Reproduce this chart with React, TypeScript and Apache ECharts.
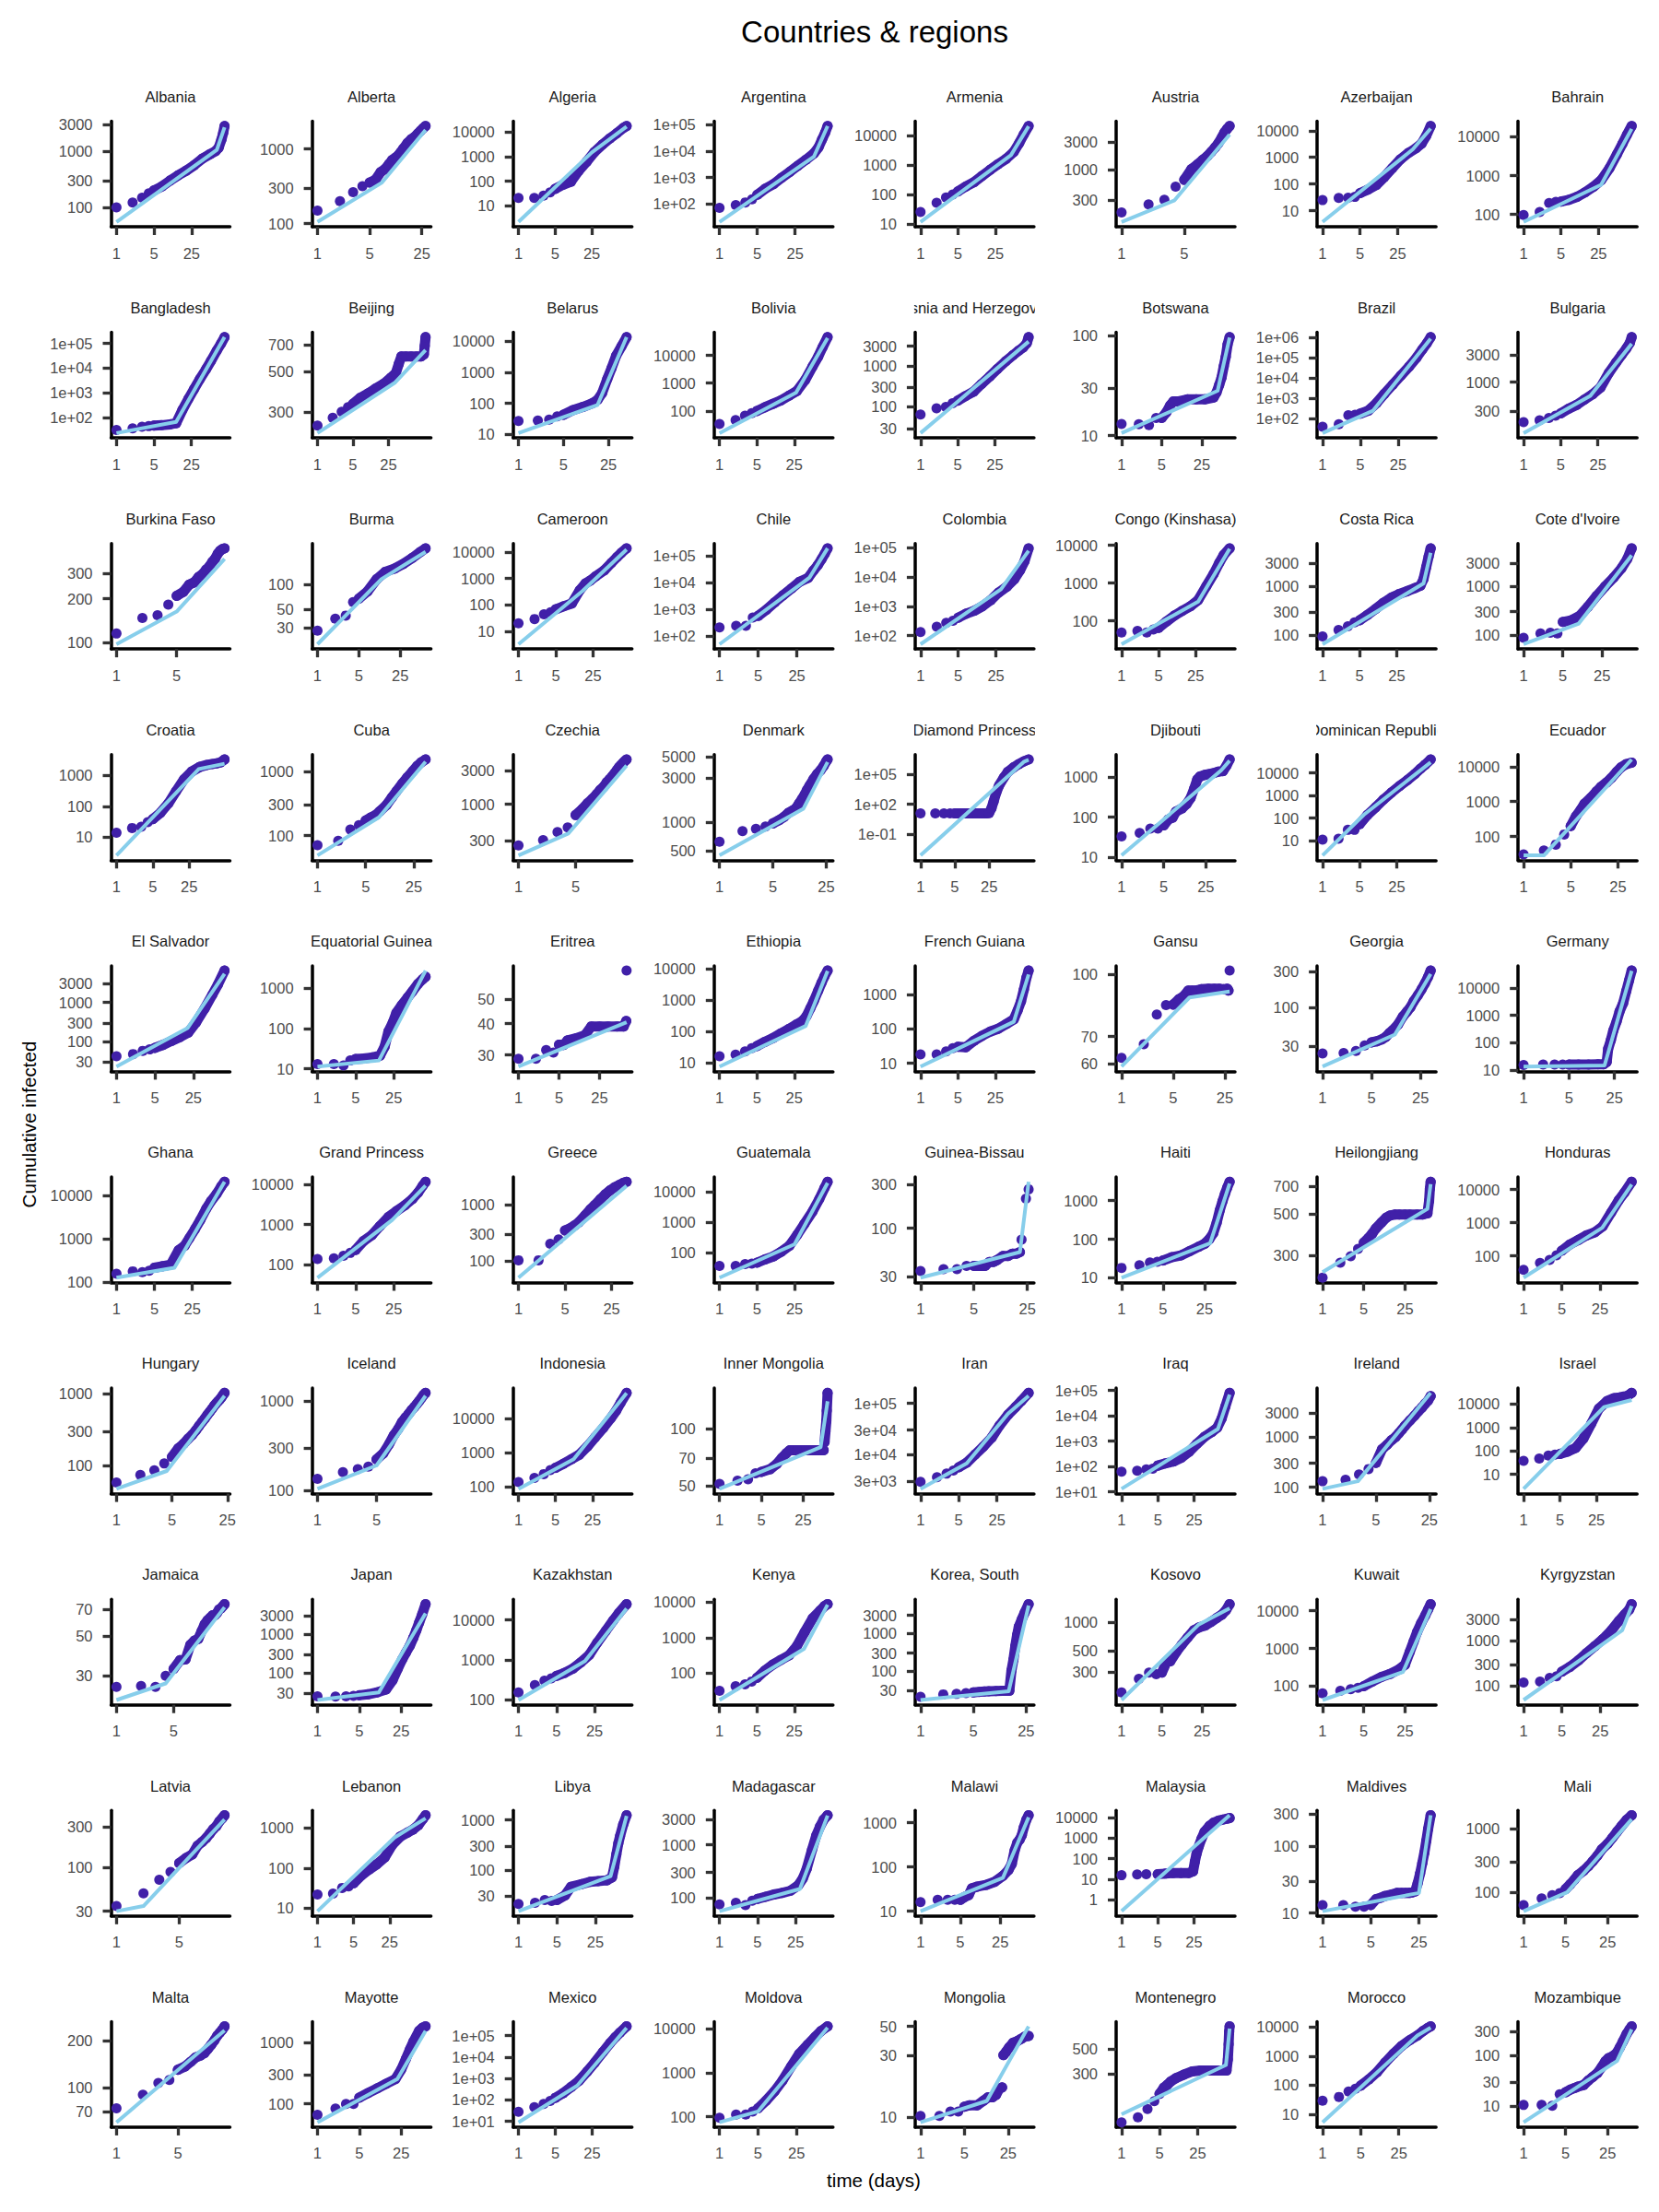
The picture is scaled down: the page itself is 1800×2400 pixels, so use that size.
import React, { useEffect, useRef } from "react";
import * as echarts from "echarts";

const countries: string[] = [
  "Albania", "Alberta", "Algeria", "Argentina", "Armenia", "Austria", "Azerbaijan", "Bahrain",
  "Bangladesh", "Beijing", "Belarus", "Bolivia", "Bosnia and Herzegovina", "Botswana", "Brazil", "Bulgaria",
  "Burkina Faso", "Burma", "Cameroon", "Chile", "Colombia", "Congo (Kinshasa)", "Costa Rica", "Cote d'Ivoire",
  "Croatia", "Cuba", "Czechia", "Denmark", "Diamond Princess", "Djibouti", "Dominican Republic", "Ecuador",
  "El Salvador", "Equatorial Guinea", "Eritrea", "Ethiopia", "French Guiana", "Gansu", "Georgia", "Germany",
  "Ghana", "Grand Princess", "Greece", "Guatemala", "Guinea-Bissau", "Haiti", "Heilongjiang", "Honduras",
  "Hungary", "Iceland", "Indonesia", "Inner Mongolia", "Iran", "Iraq", "Ireland", "Israel",
  "Jamaica", "Japan", "Kazakhstan", "Kenya", "Korea, South", "Kosovo", "Kuwait", "Kyrgyzstan",
  "Latvia", "Lebanon", "Libya", "Madagascar", "Malawi", "Malaysia", "Maldives", "Mali",
  "Malta", "Mayotte", "Mexico", "Moldova", "Mongolia", "Montenegro", "Morocco", "Mozambique",
];

const xTickLabels: string[] = ["1", "5", "25"];

const yTickLabels: string[][] = [
  ["100", "300", "1000", "3000"], ["100", "300", "1000"], ["10", "100", "1000", "10000"], ["1e+02", "1e+03", "1e+04", "1e+05"],
  ["10", "100", "1000", "10000"], ["300", "1000", "3000"], ["10", "100", "1000", "10000"], ["100", "1000", "10000"],
  ["1e+02", "1e+03", "1e+04", "1e+05"], ["300", "500", "700"], ["10", "100", "1000", "10000"], ["100", "1000", "10000"],
  ["30", "100", "300", "1000", "3000"], ["10", "30", "100"], ["1e+02", "1e+03", "1e+04", "1e+05", "1e+06"], ["300", "1000", "3000"],
  ["100", "200", "300"], ["30", "50", "100"], ["10", "100", "1000", "10000"], ["1e+02", "1e+03", "1e+04", "1e+05"],
  ["1e+02", "1e+03", "1e+04", "1e+05"], ["100", "1000", "10000"], ["100", "300", "1000", "3000"], ["100", "300", "1000", "3000"],
  ["10", "100", "1000"], ["100", "300", "1000"], ["300", "1000", "3000"], ["500", "1000", "3000", "5000"],
  ["1e-01", "1e+02", "1e+05"], ["10", "100", "1000"], ["10", "100", "1000", "10000"], ["100", "1000", "10000"],
  ["30", "100", "300", "1000", "3000"], ["10", "100", "1000"], ["30", "40", "50"], ["10", "100", "1000", "10000"],
  ["10", "100", "1000"], ["60", "70", "100"], ["30", "100", "300"], ["10", "100", "1000", "10000"],
  ["100", "1000", "10000"], ["100", "1000", "10000"], ["100", "300", "1000"], ["10", "100", "1000", "10000"],
  ["30", "100", "300"], ["10", "100", "1000"], ["300", "500", "700"], ["100", "1000", "10000"],
  ["100", "300", "1000"], ["100", "300", "1000"], ["100", "1000", "10000"], ["50", "70", "100"],
  ["3e+03", "1e+04", "3e+04", "1e+05"], ["1e+01", "1e+02", "1e+03", "1e+04", "1e+05"], ["100", "300", "1000", "3000"], ["10", "100", "1000", "10000"],
  ["30", "50", "70"], ["30", "100", "300", "1000", "3000"], ["100", "1000", "10000"], ["100", "1000", "10000"],
  ["30", "100", "300", "1000", "3000"], ["300", "500", "1000"], ["100", "1000", "10000"], ["100", "300", "1000", "3000"],
  ["30", "100", "300"], ["10", "100", "1000"], ["30", "100", "300", "1000"], ["100", "300", "1000", "3000"],
  ["10", "100", "1000"], ["1", "10", "100", "1000", "10000"], ["10", "30", "100", "300"], ["100", "300", "1000"],
  ["70", "100", "200"], ["100", "300", "1000"], ["1e+01", "1e+02", "1e+03", "1e+04", "1e+05"], ["100", "1000", "10000"],
  ["10", "30", "50"], ["100", "300", "500"], ["10", "100", "1000", "10000"], ["10", "30", "100", "300"],
];

type Pt = [number, number] | null;

// observed cumulative infected, [day, count]; null = gap between separated points
const observed: Pt[][] = [
  [[1,100],[2,122],[3,148],[4,178],[5,200],[7,235],[10,300],[14,370],[20,450],[28,560],[40,740],[55,880],[70,1000],[80,1150],[90,1600],[97,2100],[103,2800]],
  [[1,149],[2,199],[3,263],[4,316],[5,354],[6,388],[7,489],[8,537],[9,620],[10,710],[11,760],[12,815],[13,900],[14,1000],[16,1200],[18,1350],[20,1450],[22,1600],[24,1750],[26,1900],[28,2030]],
  [[1,21],[2,21],[3,26],[4,35],[5,49],[7,72],[10,96],[14,265],[20,630],[28,1550],[40,3200],[55,5600],[75,9100],[100,15000],[115,18000]],
  [[1,72],[2,92],[3,115],[4,150],[5,225],[7,380],[10,570],[14,980],[20,1650],[28,2800],[40,4800],[56,8300],[68,14000],[79,28000],[90,50000],[100,90000]],
  [[1,26],[2,54],[3,81],[4,103],[5,130],[7,190],[10,267],[14,430],[20,700],[28,1080],[40,1660],[55,2800],[70,5700],[85,11000],[105,21500]],
  [[1,186],[2,256],[3,307],[4,515],[5,672],[6,1020],[7,1230],[8,1470],[9,1700],[10,2030],[11,2400],[12,2850],[13,3500],[14,4350],[15,5000],[16,5600]],
  [[1,25],[2,30],[3,31],[4,33],[5,46],[7,62],[10,92],[14,180],[20,400],[28,830],[40,1480],[55,2200],[70,3300],[85,6400],[103,15000]],
  [[1,97],[2,115],[3,198],[4,210],[5,215],[7,237],[10,285],[14,370],[20,515],[28,760],[40,1550],[55,3500],[70,6600],[85,11300],[104,19000]],

  [[1,31],[2,36],[3,42],[4,44],[5,46],[7,48],[10,52],[13,58],[17,200],[22,560],[28,1400],[36,3600],[47,9000],[58,19500],[74,50000],[89,97000],[104,180000]],
  [[1,254],[2,280],[3,302],[4,320],[5,333],[7,360],[10,380],[14,404],[20,428],[28,463],[35,490],[40,550],[45,605],[55,605],[70,605],[90,605],[110,605],[125,620],[130,690],[135,770]],
  [[1,27],[2,28],[3,30],[4,38],[5,43],[7,60],[10,76],[14,100],[17,130],[20,214],[24,600],[28,1350],[33,3400],[40,6800],[48,13500]],
  [[1,34],[2,47],[3,68],[4,84],[5,100],[7,135],[10,180],[14,240],[20,355],[28,520],[40,1300],[55,4000],[70,9000],[85,20000],[105,45000]],
  [[1,65],[2,92],[3,100],[4,123],[5,141],[7,183],[10,235],[14,360],[20,550],[28,840],[40,1290],[55,1820],[70,2350],[85,2800],[100,3600],[108,5000]],
  [[1,13.1],[2,13],[3,12.7],[4,15],[5,15],[6,17],[7,20],[8,22],[10,22],[14,23],[20,23],[28,23],[40,24],[45,27],[50,32],[55,38],[60,49],[65,61],[70,81],[76,96]],
  [[1,41],[2,54],[3,150],[4,160],[5,180],[7,250],[10,600],[14,1700],[20,4800],[28,13000],[40,36000],[55,100000],[70,250000],[85,500000],[100,1000000]],
  [[1,194],[2,210],[3,230],[4,253],[5,278],[7,335],[10,395],[14,490],[20,610],[28,800],[40,1450],[55,2230],[70,3050],[85,3900],[100,5000],[108,6300]],

  [[1,115],[2,147],[3,154],[4,182],[5,209],[6,223],[7,250],[8,259],[9,282],[10,295],[11,317],[12,334],[13,359],[14,378],[15,408],[16,429],[17,440],[18,445]],
  [[1,27.6],[2,38.5],[3,42],[4,61],[5,67],[7,82],[10,115],[14,141],[20,154],[28,175],[40,207],[55,245],[67,270]],
  [[1,20],[2,29],[3,44],[4,53],[5,68],[7,88],[10,113],[14,355],[18,650],[22,830],[28,1220],[40,2000],[55,3900],[70,6500],[85,9500],[106,14000]],
  [[1,213],[2,243],[3,243],[4,500],[5,570],[7,960],[10,1850],[14,3300],[20,6000],[28,10700],[40,15000],[50,28000],[60,45000],[70,75000],[80,120000],[90,190000]],
  [[1,133],[2,200],[3,273],[4,323],[5,410],[7,560],[10,710],[14,1000],[20,1620],[28,2950],[40,4700],[55,8500],[70,17000],[85,35000],[101,95000]],
  [[1,49],[2,54],[3,49],[4,59],[5,65],[7,95],[10,138],[14,183],[20,243],[28,354],[40,830],[55,1750],[70,3400],[85,5500],[110,8300]],
  [[1,93],[2,127],[3,151],[4,182],[5,200],[7,259],[10,345],[14,460],[20,595],[28,705],[40,810],[55,930],[70,1040],[80,1430],[90,2540],[100,4200],[109,6200]],
  [[1,87],[2,107],[3,110],[4,107],[5,184],[7,198],[10,245],[14,378],[20,630],[28,975],[40,1500],[55,2320],[70,3600],[84,6000]],

  [[1,14],[2,20],[3,22],[4,31],[5,39],[7,62],[10,126],[14,310],[20,760],[28,1340],[40,1890],[55,2200],[70,2360],[85,2470],[100,2650],[120,3300]],
  [[1,71],[2,83],[3,124],[4,146],[5,172],[6,193],[7,210],[8,240],[10,300],[12,395],[14,495],[17,650],[20,810],[24,1010],[28,1230],[32,1400],[37,1550]],
  [[1,259],[2,309],[3,402],[4,468],[5,700],[6,850],[7,1030],[8,1190],[9,1380],[10,1600],[11,1770],[12,2050],[13,2260],[14,2500],[15,2760],[16,3060],[17,3380],[18,3620],[19,3880],[20,4100],[21,4330]],
  [[1,625],[2,811],[3,857],[4,910],[5,980],[6,1060],[7,1150],[8,1270],[9,1340],[10,1420],[11,1600],[12,1780],[13,1980],[14,2230],[15,2450],[17,2900],[19,3300],[21,3600],[23,4000],[25,4500],[26,4700]],
  [[1,12],[2,12],[3,12],[4,12],[5,12],[7,12],[10,12],[14,12],[18,12],[22,12],[25,13],[28,40],[31,200],[35,1500],[40,8000],[50,50000],[60,180000],[80,550000],[100,1100000],[130,2200000],[160,3300000]],
  [[1,33],[2,40],[3,52],[4,52],[5,62],[6,88],[7,97],[8,138],[10,165],[12,214],[14,305],[16,520],[18,880],[20,1050],[24,1150],[28,1200],[33,1260],[40,1380],[48,1430],[55,1960],[62,2800]],
  [[1,11],[2,12],[3,30],[4,30],[5,53],[7,137],[10,300],[14,660],[20,1370],[28,2600],[40,4900],[55,9100],[70,15500],[85,23000],[109,40000]],
  [[1,31],[2,40],[3,59],[4,115],[5,200],[6,385],[7,580],[8,870],[10,1300],[12,1940],[14,2620],[17,3530],[20,4750],[24,7100],[28,9600],[33,11700],[40,13000]],

  [[1,42],[2,48],[3,58],[4,63],[5,69],[7,82],[10,104],[14,128],[20,168],[28,310],[40,700],[55,1560],[70,2900],[92,6500]],
  [[1,13],[2,13],[3,12],[4,16],[5,17.5],[7,18],[10,19],[14,21],[17,35],[20,84],[24,140],[28,245],[35,380],[45,590],[55,840],[70,1300],[85,1690],[96,1950]],
  [[1,29],[2,29],[3,31.4],[4,30.7],[5,33],[6,32.9],[7,34.3],[10,35],[14,36],[18,39],[25,39],[35,39],[50,39],[65,39],[72,41],null,[73,65]],
  [[1,16],[2,18],[3,23],[4,29],[5,34],[7,46],[10,61],[14,86],[20,120],[28,170],[35,210],[42,300],[50,550],[58,940],[70,2000],[81,3600],[92,5800],[105,8800]],
  [[1,18],[2,18],[3,22],[4,27.5],[5,30],[7,29],[10,45],[14,62],[20,83],[28,100],[40,138],[55,188],[65,345],[75,630],[85,1400],[95,3100],[104,4900]],
  [[1,62],[2,67],[3,79.4],[4,83.8],[5,84],[6,86.7],[7,88.3],[8,91],[9,91],[10,91],[12,91.7],[15,92],[18,92],[21,92],[24,91.7],[27,92],[28,91],null,[29,102]],
  [[1,24],[2,24.4],[3,26],[4,30.8],[5,33.8],[6,35],[7,37],[8,40],[9,45],[10,49],[12,59],[14,75],[16,87],[18,100],[20,120],[23,145],[26,175],[29,210],[32,253],[35,311]],
  [[1,15.5],[2,16],[3,16],[4,16],[5,16],[7,16],[10,16],[14,16.5],[17,16.5],[19,20],[20,60],[22,125],[24,280],[27,600],[30,1400],[34,2800],[38,7700],[42,19000],[46,43000]],

  [[1,156],[2,178],[3,170],[4,183],[5,215],[7,233],[10,253],[14,545],[18,690],[22,1030],[28,1670],[35,2700],[45,4900],[55,7300],[70,10800],[85,16000],[98,20500]],
  [[1,140],[2,146],[3,167],[4,198],[5,234],[7,390],[10,550],[14,920],[20,1530],[28,2150],[40,3000],[55,4300],[70,6200],[85,9200],[96,11500]],
  [[1,102],[2,102],[3,200],[4,240],[5,345],[6,378],[7,427],[8,480],[10,640],[12,815],[14,975],[17,1240],[20,1500],[24,1800],[28,2030],[33,2240],[38,2440],[42,2530]],
  [[1,37],[2,37],[3,42],[4,44],[5,47],[7,60],[10,75],[14,107],[20,170],[28,390],[38,890],[54,2300],[72,5900],[90,13600],[103,22000]],
  [[1,34.4],[2,36],[3,36],[4,39],[5,39],[6,39],[7,39],[8,43],[9,43],[10,45],[12,50],[14,50],[16,53],[18,53],[20,55],null,[21,75],null,[24,210],null,[26,265]],
  [[1,18],[2,21],[3,25],[4,26],[5,28],[7,34],[10,38],[14,49],[20,64],[25,76],[30,100],[35,143],[40,270],[45,560],[50,960],[55,1500],[60,2170],[66,3100]],
  [[1,229],[2,275],[3,298],[4,326],[5,352],[6,372],[7,394],[8,418],[10,450],[12,477],[14,490],[17,496],[20,496],[25,496],[30,496],[40,496],[50,496],[60,503],[64,585],[66,680],[68,740]],
  [[1,38],[2,61],[3,76],[4,104],[5,143],[7,220],[10,300],[14,410],[20,510],[28,775],[40,2000],[55,4700],[70,8000],[95,17000]],

  [[1,59],[2,75],[3,87],[4,108],[5,133],[6,175],[7,202],[8,238],[9,270],[10,310],[11,360],[12,408],[13,456],[14,512],[15,563],[16,620],[17,681],[18,735],[19,787],[20,835],[21,893],[22,965],[23,1030]],
  [[1,135],[2,160],[3,173],[4,184],[5,222],[6,259],[7,327],[8,414],[9,484],[10,580],[11,652],[12,716],[13,792],[14,857],[15,926],[16,1000],[17,1080],[18,1170],[19,1230]],
  [[1,137],[2,181],[3,233],[4,306],[5,355],[7,465],[10,640],[14,860],[20,1500],[28,2800],[40,5300],[55,10000],[70,17000],[85,29000],[110,56000]],
  [[1,51],[2,53],[3,54],[4,58],[5,59],[7,61],[9,65],[11,70],[13,74],[15,77],[20,77],[28,77],[36,77],[45,77],[55,77],null,[57,85],[59,97],[61,110],[62,125],[64,155]],
  [[1,2920],[2,3590],[3,4220],[4,4850],[5,5600],[7,6900],[10,10000],[14,14100],[20,21300],[28,37000],[40,60000],[55,85000],[70,112000],[95,160000]],
  [[1,62],[2,67],[3,76],[4,82],[5,108],[7,132],[10,156],[14,218],[20,380],[28,760],[40,1500],[55,2300],[70,3400],[85,7800],[100,23000],[121,80000]],
  [[1,132],[2,142],[3,180],[4,231],[5,306],[6,572],[7,705],[8,870],[9,1000],[10,1200],[11,1420],[12,1680],[14,2160],[16,2670],[18,3290],[20,3890],[22,4640],[24,5330],[26,6570]],
  [[1,38],[2,47],[3,64],[4,70],[5,74],[7,94],[10,134],[14,330],[20,1480],[28,6400],[40,13400],[55,18000],[70,19300],[85,21000],[100,23000],[119,30000]],

  [[1,26],[2,26.3],[3,26],[4,30],[5,32.7],[6,36.6],[7,37],[8,44.5],[9,47],[10,48],[11,53],[12,58],[13,61],[14,63],[15,65],[16,65],[17,67],[18,70],[19,71],[20,73],[21,75]],
  [[1,24.5],[2,24],[3,24.5],[4,25],[5,26],[7,27.5],[10,31],[14,37],[18,64],[22,127],[26,220],[30,330],[35,500],[40,800],[45,1270],[50,2000],[56,3200],[64,6000]],
  [[1,154],[2,236],[3,306],[4,346],[5,400],[7,475],[10,610],[14,870],[20,1340],[28,2700],[40,5300],[55,9700],[70,14900],[97,25000]],
  [[1,31],[2,42],[3,47],[4,57],[5,72],[7,115],[10,172],[14,233],[20,315],[28,575],[39,1420],[55,3500],[76,5800],[92,7800],[105,8900]],
  [[1,20.6],[2,24],[3,24.7],[4,26],[5,27],[6,28],[7,28.7],[8,29],[10,29.5],[12,30],[14,30],[15,30],[16,103],[17,200],[18,460],[19,900],[20,1500],[22,2400],[24,3600],[27,6000]],
  [[1,184],[2,255],[3,296],[4,285],[5,296],[6,381],[7,390],[9,493],[11,578],[14,690],[18,825],[22,880],[28,920],[35,1000],[45,1110],[55,1200],[65,1340],[75,1550]],
  [[1,65],[2,75],[3,83],[4,91],[5,100],[7,133],[10,176],[14,212],[20,281],[25,372],[30,800],[35,1530],[40,2700],[47,4700],[55,7500],[62,11000],[68,15000]],
  [[1,118],[2,123],[3,150],[4,162],[5,206],[7,262],[10,365],[14,530],[20,760],[28,1090],[40,1710],[55,2780],[70,3850],[85,5000],[94,6600]],

  [[1,34.5],[2,49],[3,71],[4,88],[5,112],[6,129],[7,142],[8,180],[9,200],[10,222],[11,252],[12,285],[13,309],[14,350],[15,380],[16,415]],
  [[1,22],[2,23],[3,32],[4,35],[5,42],[7,65],[10,92],[14,124],[20,185],[28,380],[40,610],[55,770],[70,910],[90,1190],[110,1700],[124,2100]],
  [[1,21],[2,22],[3,25],[4,24],[5,25],[7,31],[9,46],[14,52],[20,58],[28,60],[40,62],[50,71],[55,116],[60,205],[65,335],[70,475],[80,810],[92,1240]],
  [[1,74],[2,79],[3,72],[4,87],[5,94],[7,103],[10,114],[14,122],[20,134],[28,170],[34,230],[40,350],[50,800],[60,1500],[70,2200],[82,3000],[97,3650]],
  [[1,16],[2,18],[3,18],[4,18],[5,18],[6,21],[7,23],[8,33],[10,36],[14,39],[20,46],[28,63],[35,85],[40,117],[45,238],[50,353],[55,414],[60,520],[65,780],[72,1160],[79,1470]],
  [[1,15.6],[2,17],[3,17.5],[5,17.5],[7,18.7],[10,20],[14,20],[20,20],[24,24],[26,71],[28,170],[31,400],[35,930],[40,2000],[50,3900],[60,5600],[75,7100],[90,7900],[110,8800],[122,9400]],
  [[1,13.2],[2,13.2],[3,12.5],[4,12.5],[5,13.2],[6,16.2],[7,17],[8,18],[10,19],[12,20],[14,20],[16,20],[18,20],[20,20.4],[22,21],[24,28],[26,39],[28,56],[30,80],[32,120],[34,180],[37,290]],
  [[1,63.5],[2,81],[3,91],[4,98],[5,113],[6,135],[7,159],[8,187],[10,220],[12,260],[14,305],[17,380],[20,475],[25,580],[30,720],[36,900],[43,1110],[52,1380],[63,1630]],

  [[1,73.8],[2,90],[3,107],[4,112],[5,130],[6,136],[7,146],[8,156],[9,160],[10,166],[11,177],[12,188],[13,200],[14,214],[15,224],[16,234],[17,246]],
  [[1,66.6],[2,84],[3,100],[4,100],[5,126],[7,150],[10,179],[14,212],[20,253],[25,360],[30,540],[35,770],[40,1030],[50,1550],[57,1740],[64,1830]],
  [[1,28],[2,46],[3,65],[4,90],[5,125],[7,205],[10,400],[14,770],[20,2050],[28,5500],[40,17000],[55,45000],[70,87000],[85,140000],[113,270000]],
  [[1,95],[2,112],[3,112],[4,132],[5,155],[7,232],[10,380],[14,670],[20,1380],[28,2650],[40,4300],[55,6500],[70,8800],[92,11200]],
  [[1,10.2],[2,10.2],[3,11],[4,11],[5,12],[6,12.3],[8,12.3],[10,13.3],[12,14.2],[14,14.2],[16,14.8],[18,16.5],[20,16.9],null,[21,30],[23,31.7],[26,34.5],[30,37.4],[35,38.5],[40,40],[46,41.7],[53,42.2]],
  [[1,112],[2,124],[3,147],[4,172],[5,200],[6,227],[7,241],[8,257],[10,275],[14,296],[20,316],[28,321],[40,321],[55,321],[70,321],[85,321],[90,402],[93,550],[95,710],[97,790]],
  [[1,29],[2,39],[3,60],[4,75],[5,95],[7,155],[10,280],[14,590],[20,1210],[28,2200],[40,3560],[55,5100],[70,7300],[85,9300],[96,10500]],
  [[1,10.4],[2,10.4],[3,10],[4,17],[5,18.6],[6,21],[7,22.5],[8,24],[10,26],[12,32],[14,37],[17,45],[20,59],[23,77],[26,89],[30,96],[35,110],[40,145],[45,190],[52,270],[58,330],[63,380]],
];

// segmented (piecewise log-log) fit, [day, count] at the segment ends
const fitted: [number, number][][] = [
  [[1,55],[74,1050],[103,2650]], [[1,105],[7.3,354],[28,1800]], [[1,2.2],[25,1500],[115,17000]], [[1,21],[56,6300],[100,90000]],
  [[1,12],[49,2200],[105,21000]], [[1,128],[3.9,300],[16,4000]], [[1,3.8],[48,2000],[103,12000]], [[1,64],[28,580],[104,16000]],
  [[1,23],[13,65],[104,180000]], [[1,231],[34,436],[135,655]], [[1,11],[17,89],[48,13500]], [[1,16],[27,457],[105,42000]],
  [[1,23],[8.5,240],[108,3900]], [[1,10.6],[47,28],[76,95]], [[1,20],[8.6,250],[100,840000]], [[1,124],[18,570],[108,4800]],
  [[1,97],[5,163],[18,376]], [[1,19],[12,115],[67,245]], [[1,3.2],[16,340],[106,12500]], [[1,50],[42,15000],[90,190000]],
  [[1,51],[31,3800],[101,78000]], [[1,24],[28,322],[110,8000]], [[1,64],[80,1160],[109,5000]], [[1,64],[9.6,170],[84,4300]],
  [[1,2.6],[38,1600],[120,2400]], [[1,49],[7.8,193],[37,1430]], [[1,187],[4.06,382],[21,3550]], [[1,447],[12.5,1400],[26,4400]],
  [[1,0.0007],[130,2000000],[160,3000000]], [[1,11],[45,1500],[62,2600]], [[1,2.2],[6,140],[109,30000]], [[1,29],[2,29],[40,16000]],
  [[1,23],[19.5,220],[92,5400]], [[1,11.3],[13.4,16],[96,2770]], [[1,27],[73,40.5]], [[1,7.5],[41,150],[105,8500]],
  [[1,8],[55,160],[104,3800]], [[1,59],[8.3,87.5],[29,90.5]], [[1,16],[10.8,43],[35,280]], [[1,13.6],[17.6,15],[46,42000]],
  [[1,127],[11.7,215],[98,20500]], [[1,48],[23.5,1300],[96,9200]], [[1,50],[42,2140]], [[1,15],[25,190],[103,20000]],
  [[1,29],[20,55],[26,320]], [[1,10],[31,79],[66,2800]], [[1,245],[60,531],[68,720]], [[1,22],[27.5,700],[95,14000]],
  [[1,48],[4.3,85],[23,935]], [[1,104],[5,190],[19,1140]], [[1,86],[11,640],[110,55000]], [[1,48],[49,80],[64,140]],
  [[1,2125],[7,6700],[40,63000],[95,140000]], [[1,13],[72,3000],[121,69000]], [[1,93],[2.9,132],[26,7600]], [[1,2.4],[35,7400],[119,15000]],
  [[1,22],[4,27.2],[21,72]], [[1,19.6],[10.6,31],[64,3450]], [[1,100],[16.7,940],[97,19300]], [[1,17],[38,480],[105,8500]],
  [[1,17],[14.7,29],[27,5500]], [[1,153],[22,950],[75,1400]], [[1,43],[23,236],[68,11000]], [[1,48],[63,1710],[94,6000]],
  [[1,30],[2,34.5],[16,370]], [[1,8.4],[31,580],[124,1760]], [[1,15],[47,75],[92,1200]], [[1,55],[30,145],[97,3600]],
  [[1,10],[28,57],[79,1320]], [[1,0.28],[122,12900]], [[1,10.7],[25,20],[37,290]], [[1,51],[5.3,101],[63,1410]],
  [[1,60],[17,232]], [[1,50],[21.6,253],[64,1540]], [[1,9],[13,460],[113,230000]], [[1,75],[5,132],[92,10500]],
  [[1,9.1],[11.4,13.3],[53,50]], [[1,132],[83,360],[97,755]], [[1,5.2],[55,5100],[96,9500]], [[1,4.7],[36,78],[63,330]],
];

const COLS = 8;
const L0 = 120.5;
const DX = 218.1;
const T0 = 131.5;
const DY = 229.1;
const PW = 129;
const PH = 114.5;
const PURPLE = "#4020A8";
const SKY = "#87CEEB";
const FONT = '"Liberation Sans", Arial, Helvetica, sans-serif';

function labelFor(labels: string[], v: number): string {
  const k = labels.findIndex((t) => Math.abs(Number(t) - v) <= Math.abs(Number(t)) * 1e-6);
  return k >= 0 ? labels[k] : "";
}

function buildOption(): any {
  const grid: any[] = [];
  const xAxis: any[] = [];
  const yAxis: any[] = [];
  const series: any[] = [];
  const graphic: any[] = [];
  const xVals = xTickLabels.map(Number);

  countries.forEach((name, i) => {
    const c = i % COLS;
    const r = Math.floor(i / COLS);
    const left = L0 + c * DX;
    const top = T0 + r * DY;
    grid.push({ left, top, width: PW, height: PH, show: false, containLabel: false });

    const pts = observed[i].filter((p) => p !== null) as [number, number][];
    const fit = fitted[i];
    const all = pts.concat(fit);
    const lx = all.map((p) => Math.log(p[0]));
    const ly = all.map((p) => Math.log(p[1]));
    const x0 = Math.min(...lx), x1 = Math.max(...lx);
    const y0 = Math.min(...ly), y1 = Math.max(...ly);
    const ex = (x1 - x0) * 0.05;
    const ey = (y1 - y0) * 0.05;
    const yLabels = yTickLabels[i];
    const yVals = yLabels.map(Number);

    const tickStyle = { color: "#333333", width: 3.3 };
    xAxis.push({
      type: "log",
      gridIndex: i,
      min: Math.exp(x0 - ex),
      max: Math.exp(x1 + ex),
      axisLine: { show: true, onZero: false, lineStyle: { color: "#000", width: 3.5 } },
      axisTick: { show: true, length: 9, lineStyle: tickStyle, customValues: xVals },
      axisLabel: {
        show: true, margin: 20, color: "#4D4D4D", fontSize: 16.5, fontFamily: FONT,
        customValues: xVals,
        formatter: (v: number) => labelFor(xTickLabels, v),
      },
      splitLine: { show: false },
      minorTick: { show: false },
      minorSplitLine: { show: false },
    });
    yAxis.push({
      type: "log",
      gridIndex: i,
      min: Math.exp(y0 - ey),
      max: Math.exp(y1 + ey),
      axisLine: { show: true, onZero: false, lineStyle: { color: "#000", width: 3.5 } },
      axisTick: { show: true, length: 9, lineStyle: tickStyle, customValues: yVals },
      axisLabel: {
        show: true, margin: 20, color: "#4D4D4D", fontSize: 16.5, fontFamily: FONT,
        customValues: yVals,
        formatter: (v: number) => labelFor(yLabels, v),
      },
      splitLine: { show: false },
      minorTick: { show: false },
      minorSplitLine: { show: false },
    });

    const band: any[] = [];
    let started = false;
    observed[i].forEach((p) => {
      if (p === null) {
        if (started) band.push(["-", "-"]);
      } else if (p[0] >= 5) {
        started = true;
        band.push(p);
      }
    });

    series.push({
      type: "line", xAxisIndex: i, yAxisIndex: i, data: band,
      symbol: "none", silent: true, connectNulls: false, z: 2,
      lineStyle: { color: PURPLE, width: 11, cap: "round", join: "round" },
    });
    series.push({
      type: "scatter", xAxisIndex: i, yAxisIndex: i, data: pts,
      symbol: "circle", symbolSize: 11, silent: true, z: 2,
      itemStyle: { color: PURPLE, opacity: 1 },
    });
    series.push({
      type: "line", xAxisIndex: i, yAxisIndex: i, data: fit,
      symbol: "none", silent: true, z: 3,
      lineStyle: { color: SKY, width: 4, cap: "butt", join: "round" },
    });

    const ty = 104.7 + r * DY;
    graphic.push({
      type: "text", x: left + PW / 2, y: ty, z: 10, silent: true,
      style: {
        text: name, fill: "#1A1A1A", fontSize: 16.5, fontFamily: FONT,
        align: "center", verticalAlign: "middle", textAlign: "center", textVerticalAlign: "middle",
      },
    });
    const mx = left + PW + 1;
    const mw = c < COLS - 1 ? DX - PW - 2 : 1800 - mx;
    graphic.push({
      type: "rect", z: 20, silent: true,
      shape: { x: mx, y: ty - 14, width: mw, height: 28 },
      style: { fill: "#FFFFFF" },
    });
  });

  graphic.push({
    type: "text", x: 949, y: 34, z: 10, silent: true,
    style: {
      text: "Countries & regions", fill: "#000", fontSize: 33, fontFamily: FONT,
      align: "center", verticalAlign: "middle", textAlign: "center", textVerticalAlign: "middle",
    },
  });
  graphic.push({
    type: "text", x: 948, y: 2365, z: 10, silent: true,
    style: {
      text: "time (days)", fill: "#000", fontSize: 20.6, fontFamily: FONT,
      align: "center", verticalAlign: "middle", textAlign: "center", textVerticalAlign: "middle",
    },
  });
  graphic.push({
    type: "text", x: 31, y: 1220, z: 10, silent: true, rotation: Math.PI / 2,
    style: {
      text: "Cumulative infected", fill: "#000", fontSize: 20.6, fontFamily: FONT,
      align: "center", verticalAlign: "middle", textAlign: "center", textVerticalAlign: "middle",
    },
  });

  return {
    animation: false,
    backgroundColor: "#FFFFFF",
    textStyle: { fontFamily: FONT },
    grid, xAxis, yAxis, series, graphic,
  };
}

export default function App() {
  const ref = useRef<HTMLDivElement | null>(null);
  useEffect(() => {
    if (!ref.current) return;
    const chart = echarts.init(ref.current, undefined, { renderer: "svg" });
    chart.setOption(buildOption());
    return () => chart.dispose();
  }, []);
  return (
    <div
      ref={ref}
      style={{ position: "absolute", left: 0, top: 0, width: 1800, height: 2400, background: "#fff" }}
    />
  );
}
